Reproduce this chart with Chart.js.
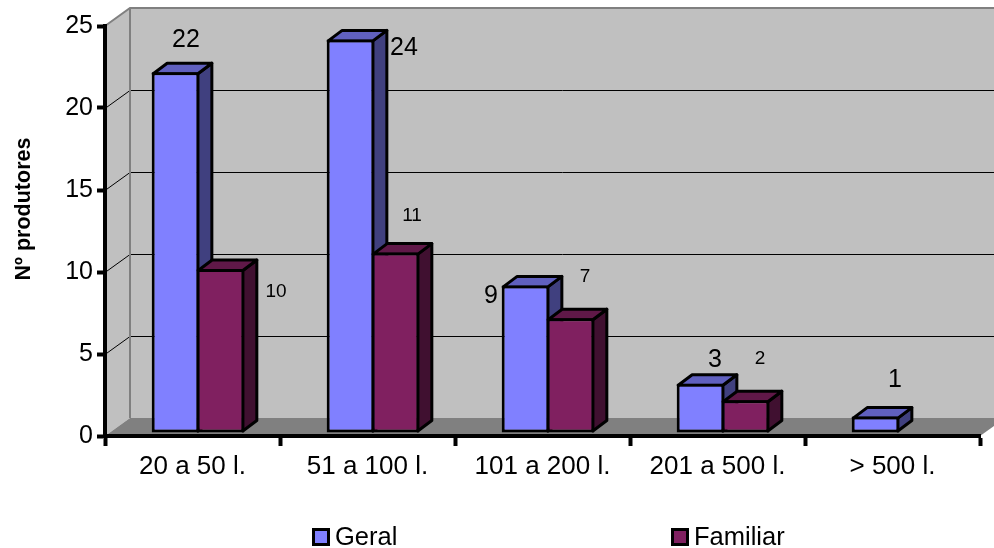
<!DOCTYPE html>
<html>
<head>
<meta charset="utf-8">
<title>Nº produtores</title>
<script src="https://cdn.jsdelivr.net/npm/chart.js@4/dist/chart.umd.min.js"></script>
<style>
  html, body { margin: 0; padding: 0; background: #fff; overflow: hidden; }
  canvas { display: block; }
</style>
</head>
<body>
<canvas id="grafico" width="994" height="548"></canvas>
<script>
var categorias = ['20 a 50 l.', '51 a 100 l.', '101 a 200 l.', '201 a 500 l.', '> 500 l.'];
var geral = [22, 24, 9, 3, 1];
var familiar = [10, 11, 7, 2, null];

// where each value label sits relative to the top of its bar
var deslocGeral = [[16, -35], [59, 6], [-29, 8], [20, -27], [25, -39]];
var deslocFamiliar = [[61, 20], [22, -40], [20, -44], [20, -44], null];

var fonte = '"Liberation Sans", Arial, sans-serif';

// fake 3D: depth of the box behind the axes, and of each bar
var fundoX = 25, fundoY = -18;
var barraX = 14, barraY = -10.5;
var recuoX = 5.5, recuoY = -3;
var bordaBarra = 3;

var coresLado = ['#40407f', '#401030'];
var coresTopo = ['#6060bf', '#601848'];

function poligono(ctx, pontos, cor, traco, largura) {
    ctx.beginPath();
    ctx.moveTo(pontos[0][0], pontos[0][1]);
    for (var i = 1; i < pontos.length; i++) {
        ctx.lineTo(pontos[i][0], pontos[i][1]);
    }
    ctx.closePath();
    if (cor) { ctx.fillStyle = cor; ctx.fill(); }
    if (traco) { ctx.strokeStyle = traco; ctx.lineWidth = largura; ctx.stroke(); }
}

var plugin3d = {
    id: 'caixa3d',
    // walls, floor and wall gridlines
    beforeDraw: function (chart) {
        var ctx = chart.ctx, a = chart.chartArea, y = chart.scales.y;
        var xf = a.left + fundoX, topo = a.top + fundoY, chao = a.bottom + fundoY;
        var dir = a.right + fundoX;
        ctx.save();
        poligono(ctx, [[xf, topo], [dir, topo], [dir, chao], [xf, chao]], '#c0c0c0');
        poligono(ctx, [[a.left, a.top], [xf, topo], [xf, chao], [a.left, a.bottom]], '#c0c0c0');
        poligono(ctx, [[a.left, a.bottom], [xf, chao], [dir, chao], [a.right, a.bottom]], '#808080');

        ctx.strokeStyle = '#000';
        ctx.lineWidth = 1;
        y.ticks.forEach(function (t) {
            if (t.value === 0 || t.value === y.max) return;
            var py = Math.round(y.getPixelForValue(t.value)) + 0.5;
            ctx.beginPath();
            ctx.moveTo(a.left, py);
            ctx.lineTo(xf, py + fundoY);
            ctx.lineTo(dir, py + fundoY);
            ctx.stroke();
        });

        ctx.strokeStyle = '#808080';
        ctx.lineWidth = 2;
        ctx.beginPath();
        ctx.moveTo(a.left, a.top);
        ctx.lineTo(xf, topo);
        ctx.lineTo(dir, topo);
        ctx.moveTo(xf, topo);
        ctx.lineTo(xf, chao);
        ctx.stroke();
        ctx.restore();
    },
    // the library paints the left series last, here it has to go first so
    // that each bar covers the side of the one on its left
    beforeDatasetsDraw: function (chart) {
        var ctx = chart.ctx;
        chart.data.datasets.forEach(function (ds, d) {
            var meta = chart.getDatasetMeta(d);
            meta.data.forEach(function (bar, i) {
                if (ds.data[i] === null) return;
                var p = bar.getProps(['x', 'y', 'base', 'width'], true);
                var m = bordaBarra / 2;
                var e = p.x - p.width / 2 + recuoX + m, r = p.x + p.width / 2 + recuoX - m;
                var t = p.y + recuoY + m, b = p.base + recuoY - m;
                ctx.save();
                ctx.lineJoin = 'round';
                poligono(ctx, [[r, t], [r + barraX, t + barraY], [r + barraX, b + barraY], [r, b]],
                    coresLado[d], '#000', bordaBarra);
                poligono(ctx, [[e, t], [e + barraX, t + barraY], [r + barraX, t + barraY], [r, t]],
                    coresTopo[d], '#000', bordaBarra);
                ctx.restore();
            });
            ctx.save();
            ctx.translate(recuoX, recuoY);
            meta.controller.draw();
            ctx.restore();
        });
    },
    beforeDatasetDraw: function () {
        return false;
    },
    afterDraw: function (chart) {
        var ctx = chart.ctx;
        ctx.save();

        // value labels
        ctx.fillStyle = '#000';
        ctx.textAlign = 'center';
        ctx.textBaseline = 'middle';
        [deslocGeral, deslocFamiliar].forEach(function (desloc, d) {
            ctx.font = (d === 0 ? '25px ' : '19px ') + fonte;
            chart.getDatasetMeta(d).data.forEach(function (bar, i) {
                var v = chart.data.datasets[d].data[i];
                if (v === null) return;
                ctx.fillText(String(v), bar.x + desloc[i][0], bar.y + desloc[i][1]);
            });
        });

        // axis title, placed above the middle of the axis
        ctx.save();
        ctx.translate(24, 209);
        ctx.rotate(-Math.PI / 2);
        ctx.font = 'bold 21.5px ' + fonte;
        ctx.fillText('Nº produtores', 0, 0);
        ctx.restore();

        // legend spread wide under the chart
        var xLegenda = [313.5, 672.5];
        ctx.textAlign = 'left';
        ctx.font = '25.5px ' + fonte;
        chart.data.datasets.forEach(function (ds, d) {
            ctx.fillStyle = ds.backgroundColor;
            ctx.strokeStyle = '#000';
            ctx.lineWidth = 3;
            ctx.fillRect(xLegenda[d], 529.5, 15, 15);
            ctx.strokeRect(xLegenda[d], 529.5, 15, 15);
            ctx.fillStyle = '#000';
            ctx.fillText(ds.label, xLegenda[d] + 21.5, 538);
        });
        ctx.restore();
    }
};

new Chart(document.getElementById('grafico').getContext('2d'), {
    type: 'bar',
    data: {
        labels: categorias,
        datasets: [
            { label: 'Geral', data: geral, backgroundColor: '#8080ff' },
            { label: 'Familiar', data: familiar, backgroundColor: '#802060' }
        ]
    },
    options: {
        responsive: false,
        animation: false,
        layout: { padding: { left: 0, right: 14, top: 26, bottom: 0 } },
        datasets: {
            bar: {
                borderColor: '#000',
                borderWidth: bordaBarra,
                borderSkipped: false,
                clip: false,
                categoryPercentage: 0.514,
                barPercentage: 1.06
            }
        },
        plugins: {
            legend: { display: false },
            tooltip: { enabled: false }
        },
        scales: {
            x: {
                afterFit: function (eixo) { eixo.height = 112; },
                grid: { drawOnChartArea: false, tickLength: 10, tickWidth: 4, tickColor: '#000' },
                border: { color: '#000', width: 4 },
                ticks: { color: '#000', padding: 5, maxRotation: 0, font: { family: fonte, size: 26 } }
            },
            y: {
                min: 0,
                max: 25,
                afterFit: function (eixo) { eixo.width = 105; },
                grid: { drawOnChartArea: false, tickLength: 8, tickWidth: 4, tickColor: '#000' },
                border: { color: '#000', width: 4 },
                ticks: { color: '#000', stepSize: 5, padding: 4, font: { family: fonte, size: 25 } }
            }
        }
    },
    plugins: [plugin3d]
});
</script>
</body>
</html>
